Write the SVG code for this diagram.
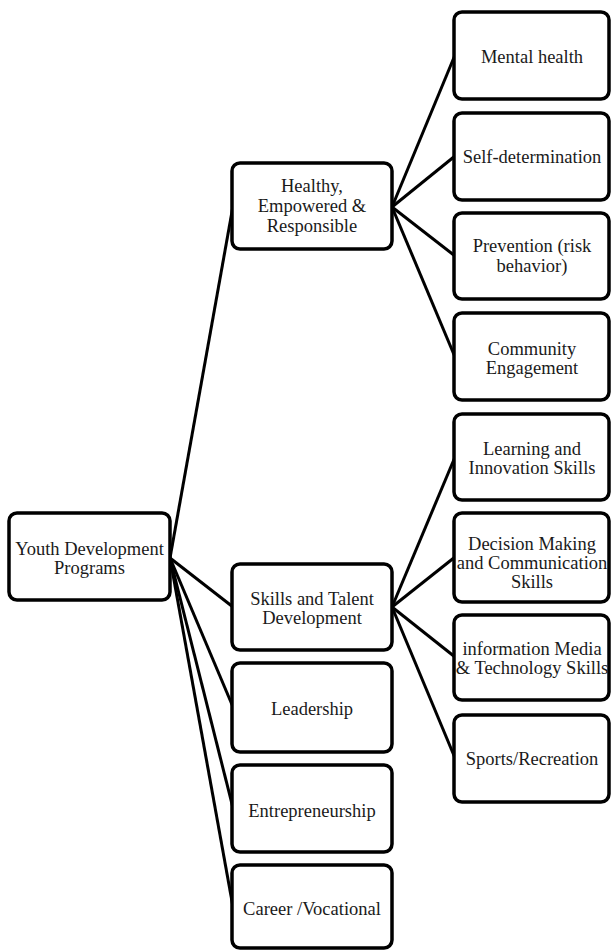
<svg xmlns="http://www.w3.org/2000/svg" width="611" height="950" viewBox="0 0 611 950">
<style>
.box{fill:#fff;stroke:#000;stroke-width:3.5}
.lbl{font-family:"Liberation Serif","DejaVu Serif",serif;font-size:18.5px;fill:#1a1a1a;text-anchor:middle}
.con{stroke:#000;stroke-width:3;fill:none}
</style>
<rect width="611" height="950" fill="#fff"/>
<g id="connectors" class="con">
<line x1="170" y1="558" x2="233" y2="206"/>
<line x1="170" y1="558" x2="233" y2="607"/>
<line x1="170" y1="558" x2="233" y2="707"/>
<line x1="170" y1="558" x2="233" y2="808"/>
<line x1="170" y1="558" x2="233" y2="907"/>
<line x1="392" y1="207" x2="455" y2="55"/>
<line x1="392" y1="207" x2="455" y2="156"/>
<line x1="392" y1="207" x2="455" y2="256"/>
<line x1="392" y1="207" x2="455" y2="357"/>
<line x1="392" y1="607" x2="455" y2="457"/>
<line x1="392" y1="607" x2="455" y2="557"/>
<line x1="392" y1="607" x2="455" y2="657"/>
<line x1="392" y1="607" x2="455" y2="758"/>
</g>
<g id="root"><rect class="box" x="9" y="513" width="161" height="87" rx="8"/>
<text class="lbl" x="89.5" y="555">Youth Development</text><text class="lbl" x="89.5" y="574">Programs</text></g>
<g id="healthy"><rect class="box" x="232" y="163" width="160" height="86" rx="8"/>
<text class="lbl" x="312" y="192">Healthy,</text><text class="lbl" x="312" y="212">Empowered &amp;</text><text class="lbl" x="312" y="232">Responsible</text></g>
<g id="skills"><rect class="box" x="232" y="564" width="160" height="86" rx="8"/>
<text class="lbl" x="312" y="605">Skills and Talent</text><text class="lbl" x="312" y="624">Development</text></g>
<g id="leadership"><rect class="box" x="232" y="663" width="160" height="89" rx="8"/>
<text class="lbl" x="312" y="715">Leadership</text></g>
<g id="entrepreneurship"><rect class="box" x="232" y="765" width="160" height="87" rx="8"/>
<text class="lbl" x="312" y="817">Entrepreneurship</text></g>
<g id="career"><rect class="box" x="232" y="865" width="160" height="83" rx="8"/>
<text class="lbl" x="312" y="915">Career /Vocational</text></g>
<g id="mental"><rect class="box" x="454" y="12" width="155" height="87" rx="8"/>
<text class="lbl" x="532" y="63">Mental health</text></g>
<g id="selfdet"><rect class="box" x="454" y="113" width="155" height="87" rx="8"/>
<text class="lbl" x="532" y="163">Self-determination</text></g>
<g id="prevention"><rect class="box" x="454" y="213" width="155" height="86" rx="8"/>
<text class="lbl" x="532" y="252">Prevention (risk</text><text class="lbl" x="532" y="272">behavior)</text></g>
<g id="community"><rect class="box" x="454" y="313" width="155" height="87" rx="8"/>
<text class="lbl" x="532" y="355">Community</text><text class="lbl" x="532" y="374">Engagement</text></g>
<g id="learning"><rect class="box" x="454" y="414" width="155" height="86" rx="8"/>
<text class="lbl" x="532" y="455">Learning and</text><text class="lbl" x="532" y="474">Innovation Skills</text></g>
<g id="decision"><rect class="box" x="454" y="513" width="155" height="89" rx="8"/>
<text class="lbl" x="532" y="550">Decision Making</text><text class="lbl" x="532" y="569">and Communication</text><text class="lbl" x="532" y="588">Skills</text></g>
<g id="information"><rect class="box" x="454" y="615" width="155" height="85" rx="8"/>
<text class="lbl" x="532" y="655">information Media</text><text class="lbl" x="532" y="674">&amp; Technology Skills</text></g>
<g id="sports"><rect class="box" x="454" y="715" width="155" height="87" rx="8"/>
<text class="lbl" x="532" y="765">Sports/Recreation</text></g>
</svg>
